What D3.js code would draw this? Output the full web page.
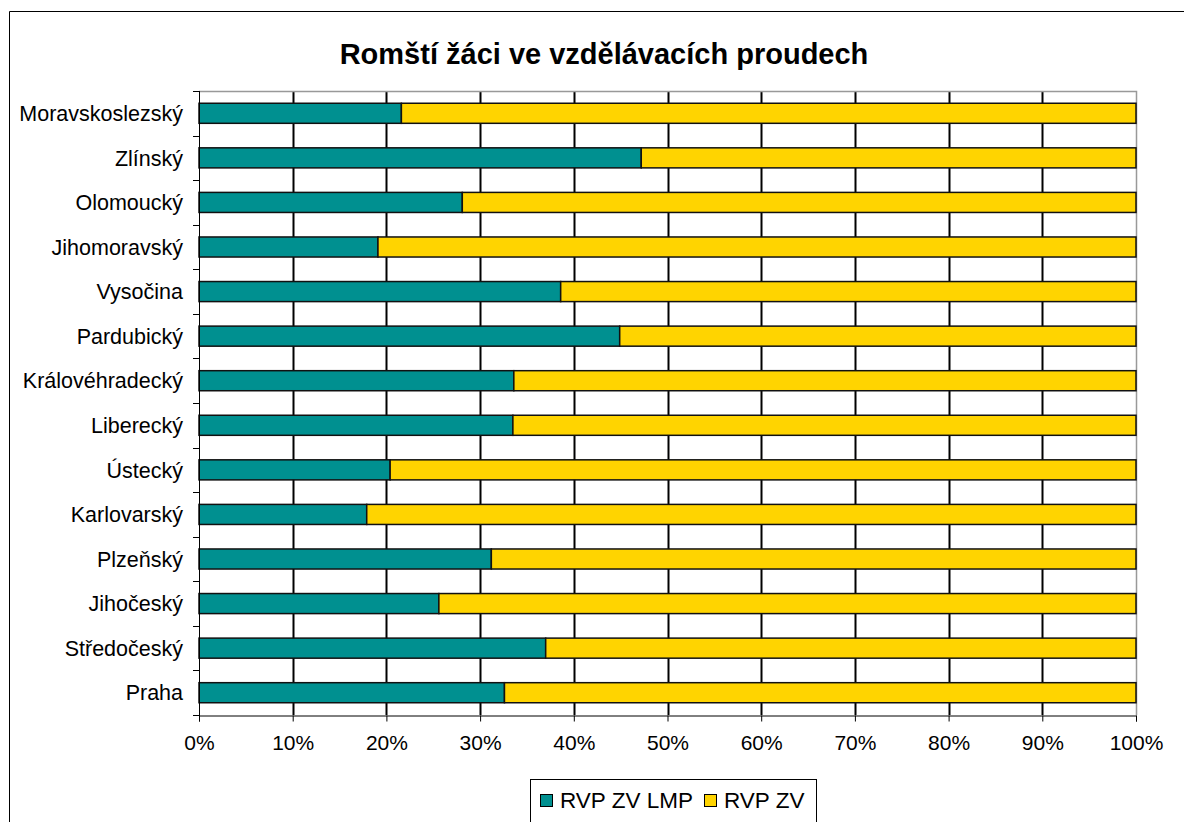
<!DOCTYPE html>
<html>
<head>
<meta charset="utf-8">
<script src="https://cdn.jsdelivr.net/npm/d3@7"></script>
<style>
  html, body { margin: 0; padding: 0; background: #fff; }
  svg { display: block; font-family: "Liberation Sans", Arial, sans-serif; }
</style>
</head>
<body>
<div id="chart"></div>
<script>
// Kraje shora dolů, jak jsou v grafu
const regions = ['Moravskoslezský', 'Zlínský', 'Olomoucký', 'Jihomoravský', 'Vysočina',
  'Pardubický', 'Královéhradecký', 'Liberecký', 'Ústecký', 'Karlovarský',
  'Plzeňský', 'Jihočeský', 'Středočeský', 'Praha'];

// podíly v %
const lmpShare = [21.6, 47.2, 28.1, 19.1, 38.6, 44.9, 33.6, 33.5, 20.4, 17.9, 31.2, 25.6, 37.0, 32.6];
const zvShare = [78.4, 52.8, 71.9, 80.9, 61.4, 55.1, 66.4, 66.5, 79.6, 82.1, 68.8, 74.4, 63.0, 67.4];

const seriesNames = ['RVP ZV LMP', 'RVP ZV'];
const seriesColors = ['#009090', '#FFD400'];
const xTicks = [0, 10, 20, 30, 40, 50, 60, 70, 80, 90, 100];

const width = 1184, height = 822;
const plot = { left: 199, right: 1136, top: 91, bottom: 715 };

const svg = d3.select('#chart').append('svg')
  .attr('width', width)
  .attr('height', height);

// outer chart frame (runs off the right/bottom edge)
svg.append('path')
  .attr('d', 'M9.5,830V11.5H1190')
  .attr('fill', 'none')
  .attr('stroke', '#000');

svg.append('text')
  .attr('x', 604).attr('y', 64)
  .attr('text-anchor', 'middle')
  .attr('font-size', '29px')
  .attr('font-weight', 'bold')
  .text('Romští žáci ve vzdělávacích proudech');

const x = d3.scaleLinear().domain([0, 100]).range([plot.left, plot.right]);
const y = d3.scaleBand().domain(regions).range([plot.top, plot.bottom]).paddingInner(0.55).paddingOuter(0.275);
const yOuter = d3.scaleBand().domain(regions).range([plot.top, plot.bottom]);

// vertical gridlines
svg.append('g')
  .attr('class', 'gridlines')
  .selectAll('line')
  .data(xTicks.slice(1, -1))
  .join('line')
  .attr('x1', d => Math.round(x(d)) + 0.5)
  .attr('x2', d => Math.round(x(d)) + 0.5)
  .attr('y1', plot.top)
  .attr('y2', plot.bottom)
  .attr('stroke', '#000')
  .attr('stroke-width', 2);

// plot border top/right (gray)
svg.append('path')
  .attr('d', `M${plot.left},${plot.top + 0.5}H${plot.right + 0.5}V${plot.bottom}`)
  .attr('fill', 'none')
  .attr('stroke', '#999')
  .attr('stroke-width', 1.5);

// stacked bars
const stackData = regions.map((r, i) => ({ region: r, lmp: lmpShare[i], zv: zvShare[i] }));
const stack = d3.stack().keys(['lmp', 'zv'])(stackData);

svg.append('g')
  .selectAll('g')
  .data(stack)
  .join('g')
  .attr('fill', (d, i) => seriesColors[i])
  .selectAll('rect')
  .data(d => d)
  .join('rect')
  .attr('x', d => x(d[0]))
  .attr('y', d => y(d.data.region))
  .attr('width', d => x(d[1]) - x(d[0]))
  .attr('height', y.bandwidth())
  .attr('stroke', '#111')
  .attr('stroke-width', 1.5);

// x axis
const xAxis = svg.append('g')
  .attr('transform', `translate(0,${plot.bottom + 0.5})`)
  .call(d3.axisBottom(x).tickValues(xTicks).tickFormat(d => d + '%').tickSize(6).tickPadding(14));
xAxis.select('.domain').attr('stroke', '#000');
xAxis.selectAll('.tick line').attr('stroke', '#000');
xAxis.selectAll('text').attr('font-size', '21px').attr('fill', '#000');

// y axis with separators between categories
svg.append('line')
  .attr('x1', plot.left + 0.5).attr('x2', plot.left + 0.5)
  .attr('y1', plot.top).attr('y2', plot.bottom + 6)
  .attr('stroke', '#000');

svg.append('g')
  .selectAll('line')
  .data(regions.concat(['__end']))
  .join('line')
  .attr('x1', plot.left - 6)
  .attr('x2', plot.left)
  .attr('y1', (d, i) => Math.round(i < regions.length ? yOuter(d) : plot.bottom) + 0.5)
  .attr('y2', (d, i) => Math.round(i < regions.length ? yOuter(d) : plot.bottom) + 0.5)
  .attr('stroke', '#000');

svg.append('g')
  .selectAll('text')
  .data(regions)
  .join('text')
  .attr('x', plot.left - 16)
  .attr('y', d => yOuter(d) + yOuter.bandwidth() / 2)
  .attr('dy', '0.36em')
  .attr('text-anchor', 'end')
  .attr('font-size', '21.5px')
  .text(d => d);

// legend
const legend = svg.append('g');
legend.append('rect')
  .attr('x', 530.5).attr('y', 779.5)
  .attr('width', 286).attr('height', 80)
  .attr('fill', '#fff')
  .attr('stroke', '#000');

const legendX = [540, 704];
seriesNames.forEach((name, i) => {
  legend.append('rect')
    .attr('x', legendX[i] + 0.5).attr('y', 794.5)
    .attr('width', 12).attr('height', 12)
    .attr('fill', seriesColors[i])
    .attr('stroke', '#000');
  legend.append('text')
    .attr('x', legendX[i] + 20).attr('y', 808)
    .attr('font-size', '22.5px')
    .text(name);
});
</script>
</body>
</html>
